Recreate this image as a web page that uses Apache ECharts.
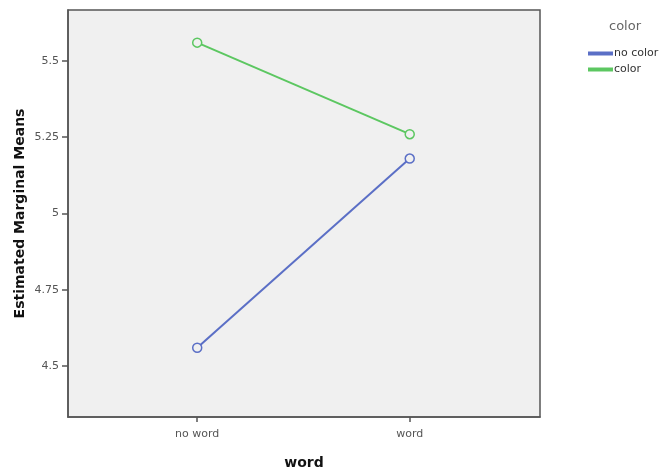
<!DOCTYPE html>
<html>
<head>
<meta charset="utf-8">
<script src="https://cdn.jsdelivr.net/npm/echarts@6/dist/echarts.min.js"></script>
<style>html,body{margin:0;padding:0;background:#fff}#c{width:660px;height:472px}</style>
</head>
<body>
<div id="c"></div>
<script>
const categories = ['no word', 'word'];
const seriesNames = ['no color', 'color'];
const noColorValues = [4.56, 5.18];
const colorValues = [5.56, 5.26];
const yTicks = [4.5, 4.75, 5, 5.25, 5.5];
const yLabels = ['4.5', '4.75', '5', '5.25', '5.5'];
const legendTitle = 'color';
const xTitle = 'word';
const yTitle = 'Estimated Marginal Means';

const chart = echarts.init(document.getElementById('c'), null, {renderer: 'canvas'});
const xIdx = categories.map((_, i) => i);
const toPairs = vals => vals.map((v, i) => [i, v]);
const font = 'DejaVu Sans';
const blue = '#5b6fc6', green = '#5cc761';
chart.setOption({
  animation: false,
  backgroundColor: '#fff',
  grid: {left: 68, right: 120, top: 10, bottom: 55, show: true, backgroundColor: '#f0f0f0', borderColor: '#555', borderWidth: 1.5, outerBoundsMode: 'none', containLabel: false},
  graphic: [{type: 'text', left: 609, top: 20, style: {text: legendTitle, fontFamily: font, fontSize: 13, fill: '#666'}}],
  legend: {
    orient: 'vertical', left: 583, top: 43, itemWidth: 23, itemHeight: 2, itemGap: 5, icon: 'rect',
    textStyle: {fontFamily: font, fontSize: 11, color: '#333', padding: [0,0,0,-3]},
    data: seriesNames
  },
  xAxis: {
    type: 'value', min: -0.608, max: 1.613,
    name: xTitle, nameLocation: 'middle', nameGap: 39, nameMoveOverlap: false,
    nameTextStyle: {fontFamily: font, fontSize: 14, fontWeight: 'bold', color: '#111'},
    axisLine: {show: true, onZero: false, lineStyle: {color: '#555', width: 1.5}},
    axisTick: {show: true, customValues: xIdx, length: 5, lineStyle: {color: '#555', width: 1.5}},
    axisLabel: {customValues: xIdx, formatter: v => categories[Math.round(v)], fontFamily: font, fontSize: 11, color: '#555', margin: 12},
    splitLine: {show: false}
  },
  yAxis: {
    type: 'value', min: 4.333, max: 5.667,
    name: yTitle, nameLocation: 'middle', nameGap: 41, nameRotate: 90, nameMoveOverlap: false,
    nameTextStyle: {fontFamily: font, fontSize: 14, fontWeight: 'bold', color: '#111'},
    axisLine: {show: true, onZero: false, lineStyle: {color: '#555', width: 1.5}},
    axisTick: {show: true, customValues: yTicks, length: 6, lineStyle: {color: '#555', width: 1.5}},
    axisLabel: {customValues: yTicks, formatter: v => yLabels[yTicks.findIndex(t => Math.abs(t - v) < 1e-6)] ?? String(v), fontFamily: font, fontSize: 11, color: '#555', margin: 9},
    splitLine: {show: false}
  },
  series: [
    {name: seriesNames[0], type: 'line', data: toPairs(noColorValues), color: blue,
     lineStyle: {width: 2, color: blue}, symbol: 'circle', symbolSize: 9, itemStyle: {color: '#f0f0f0', borderColor: blue, borderWidth: 1.5}},
    {name: seriesNames[1], type: 'line', data: toPairs(colorValues), color: green,
     lineStyle: {width: 2, color: green}, symbol: 'circle', symbolSize: 9, itemStyle: {color: '#f0f0f0', borderColor: green, borderWidth: 1.5}}
  ]
});
</script>
</body>
</html>
